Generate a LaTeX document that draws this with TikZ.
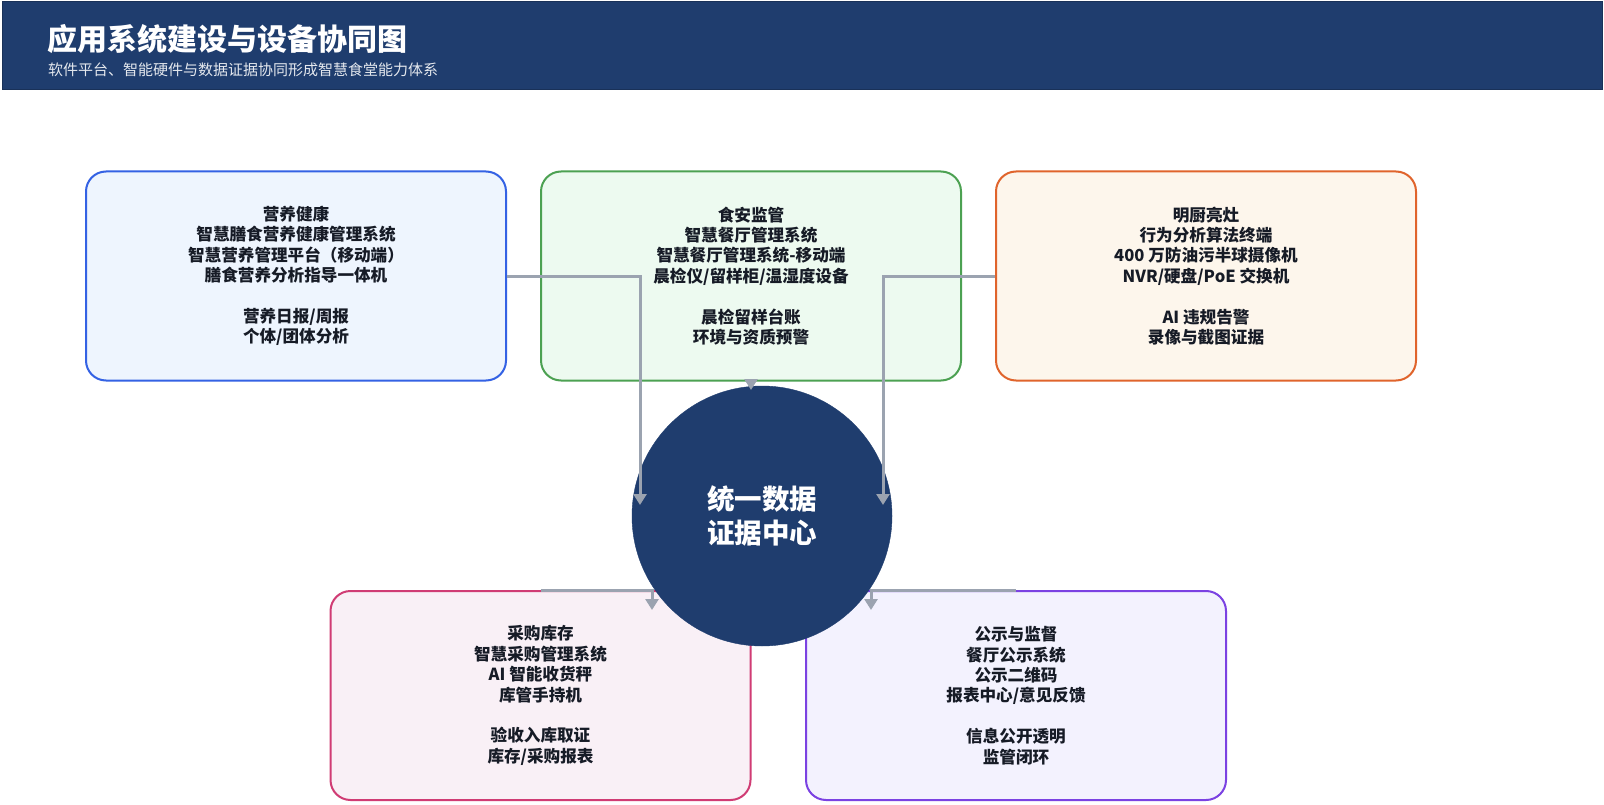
\documentclass[tikz,border=0pt]{standalone}
\usepackage{fontspec}
\newfontfamily\cjk{Noto Sans CJK SC}
\usetikzlibrary{arrows.meta}
\definecolor{navy}{HTML}{1F3D6E}
\definecolor{conngray}{HTML}{9BA3B0}
\definecolor{txtdark}{HTML}{161B26}
\definecolor{bBlue}{HTML}{3462E4}\definecolor{fBlue}{HTML}{EEF5FE}
\definecolor{bGreen}{HTML}{4CA152}\definecolor{fGreen}{HTML}{EDFAF0}
\definecolor{bOrange}{HTML}{E0642C}\definecolor{fOrange}{HTML}{FDF6EC}
\definecolor{bPink}{HTML}{D03C74}\definecolor{fPink}{HTML}{F9F0F6}
\definecolor{bPurple}{HTML}{7B42E2}\definecolor{fPurple}{HTML}{F3F2FE}
\tikzset{
  card/.style={rectangle, rounded corners=20pt, line width=2pt, minimum width=420pt, minimum height=209pt, align=center, text=txtdark, font=\cjk\bfseries\fontsize{16.6}{20.4}\selectfont},
  conn/.style={draw=conngray, line width=3pt, -{Triangle[width=13pt,length=11pt]}},
}
\begin{document}
\begin{tikzpicture}[x=1pt,y=-1pt]
\useasboundingbox (0,0) rectangle (1604,805);
\fill[white] (0,0) rectangle (1604,805);
% header
\node[draw=navy!80!black, fill=navy, line width=1pt, minimum width=1600pt, minimum height=88pt, anchor=north west, inner sep=0pt] (hdr) at (2,1) {};
\node[anchor=west, text=white, font=\cjk\bfseries\fontsize{30}{32}\selectfont, inner sep=0pt] (title) at (47,39) {应用系统建设与设备协同图};
\node[anchor=west, text=white!88!navy, font=\cjk\fontsize{15}{17}\selectfont, inner sep=0pt] (sub) at (48,70) {软件平台、智能硬件与数据证据协同形成智慧食堂能力体系};
% cards
\node[card, draw=bBlue, fill=fBlue] (b1) at (296,276) {营养健康\\智慧膳食营养健康管理系统\\智慧营养管理平台（移动端）\\膳食营养分析指导一体机\\[20.4pt]营养日报/周报\\个体/团体分析};
\node[card, draw=bGreen, fill=fGreen] (b2) at (751,276) {食安监管\\智慧餐厅管理系统\\智慧餐厅管理系统-移动端\\晨检仪/留样柜/温湿度设备\\[20.4pt]晨检留样台账\\环境与资质预警};
\node[card, draw=bOrange, fill=fOrange] (b3) at (1206,276) {明厨亮灶\\行为分析算法终端\\400 万防油污半球摄像机\\NVR/硬盘/PoE 交换机\\[20.4pt]AI 违规告警\\录像与截图证据};
\node[card, draw=bPink, fill=fPink] (b4) at (540.5,695.5) {采购库存\\智慧采购管理系统\\AI 智能收货秤\\库管手持机\\[20.4pt]验收入库取证\\库存/采购报表};
\node[card, draw=bPurple, fill=fPurple] (b5) at (1016,695.5) {公示与监督\\餐厅公示系统\\公示二维码\\报表中心/意见反馈\\[20.4pt]信息公开透明\\监管闭环};
% hub
\node[circle, fill=navy, draw=navy, minimum size=260pt, inner sep=0pt, align=center, text=white, font=\cjk\bfseries\fontsize{27.5}{33.5}\selectfont] (hub) at (762,516) {统一数据\\证据中心};
% connector ends
\coordinate (e1) at (640,505);
\coordinate (e2) at (751,390);
\coordinate (e3) at (883,505);
\coordinate (e4) at (652,610);
\coordinate (e5) at (871,610);
\draw[conn] (b1.east) -| (e1);
\draw[conn] (b2.south) -- (e2);
\draw[conn] (b3.west) -| (e3);
\draw[conn] (b4.north) -| (e4);
\draw[conn] (b5.north) -| (e5);
\end{tikzpicture}
\end{document}
